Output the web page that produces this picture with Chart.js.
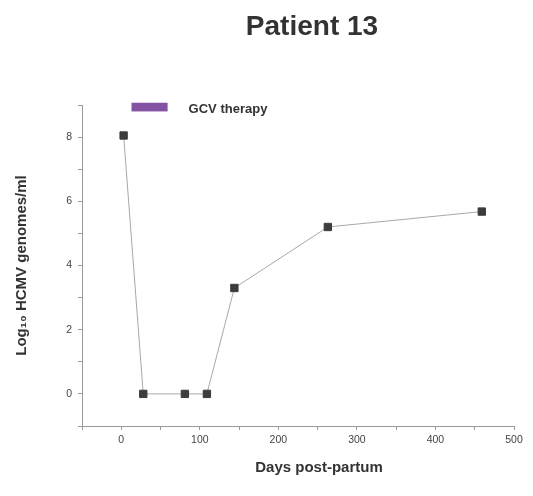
<!DOCTYPE html>
<html>
<head>
<meta charset="utf-8">
<script src="https://cdn.jsdelivr.net/npm/chart.js@4"></script>
<style>
  body { margin: 0; background: #fff; }
  #wrap { position: relative; width: 533px; height: 496px; }
  #title { position: absolute; left: 0; width: 624px; top: 10px; text-align: center;
           font: bold 28px "Liberation Sans", Arial, sans-serif; color: #333; }
  #xtitle { position: absolute; left: 0; width: 638px; top: 458px; text-align: center;
            font: bold 15px "Liberation Sans", Arial, sans-serif; color: #333; }
</style>
</head>
<body>
<div id="wrap">
  <canvas id="chart" width="533" height="496"></canvas>
  <div id="title">Patient 13</div>
  <div id="xtitle">Days post-partum</div>
</div>
<script>
// days post-partum and log10 viral load
let days = [3, 28, 81, 109, 144, 263, 459];
let loads = [8.05, 0, 0, 0, 3.3, 5.2, 5.68];
let xTicks = [0, 100, 200, 300, 400, 500];
let yTicks = [0, 2, 4, 6, 8];
// GCV therapy indicator
let gcvDays = [13, 59];
let gcvLevel = [9.07, 8.8];
let gcvLabel = "GCV therapy";

let points = days.map((d, i) => ({ x: d, y: loads[i] }));

// plugin drawing the therapy box and label
let gcvPlugin = {
    id: 'gcv',
    afterDraw(chart) {
        let ctx = chart.ctx;
        let xs = chart.scales.x, ys = chart.scales.y;
        let x1 = xs.getPixelForValue(gcvDays[0]);
        let x2 = xs.getPixelForValue(gcvDays[1]);
        let y1 = ys.getPixelForValue(gcvLevel[0]);
        let y2 = ys.getPixelForValue(gcvLevel[1]);
        ctx.save();
        ctx.fillStyle = '#8352a3';
        ctx.fillRect(x1, y1, x2 - x1, y2 - y1);
        ctx.font = 'bold 13px "Liberation Sans", Arial, sans-serif';
        ctx.fillStyle = '#333';
        ctx.textBaseline = 'middle';
        ctx.fillText(gcvLabel, x2 + 21, (y1 + y2) / 2 + 2);
        ctx.restore();
    }
};

let canvas = document.getElementById('chart');
let chart = new Chart(canvas, {
    type: 'line',
    data: {
        datasets: [{
            data: points,
            borderColor: '#a8a8a8',
            borderWidth: 1,
            pointStyle: 'rect',
            pointRadius: 5.2,
            pointBackgroundColor: '#3c3c3c',
            pointBorderColor: '#3c3c3c',
            pointBorderWidth: 1,
            tension: 0
        }]
    },
    options: {
        responsive: false,
        animation: false,
        layout: { padding: { top: 105, right: 19, left: 0, bottom: 0 } },
        plugins: { legend: { display: false }, tooltip: { enabled: false } },
        scales: {
            x: {
                type: 'linear',
                min: -50, max: 500,
                afterFit(scale) { scale.height = 70; },
                border: { display: true, color: '#999', width: 1 },
                grid: { drawOnChartArea: false, drawTicks: true, tickLength: 4, color: '#999' },
                ticks: {
                    stepSize: 50,
                    padding: 4,
                    color: '#444',
                    font: { family: '"Liberation Sans", Arial, sans-serif', size: 10.5 },
                    callback: v => xTicks.includes(v) ? v : ''
                }
            },
            y: {
                min: -1, max: 9,
                afterFit(scale) { scale.width = 82; },
                border: { display: true, color: '#999', width: 1 },
                grid: { drawOnChartArea: false, drawTicks: true, tickLength: 4, color: '#999' },
                title: {
                    display: true,
                    text: 'Log\u2081\u2080 HCMV genomes/ml',
                    color: '#333',
                    padding: { top: 13, bottom: 0 },
                    font: { family: '"Liberation Sans", Arial, sans-serif', size: 15, weight: 'bold' }
                },
                ticks: {
                    stepSize: 1,
                    padding: 6,
                    color: '#444',
                    font: { family: '"Liberation Sans", Arial, sans-serif', size: 10.5 },
                    callback: v => yTicks.includes(v) ? v : ''
                }
            }
        }
    },
    plugins: [gcvPlugin]
});
</script>
</body>
</html>
